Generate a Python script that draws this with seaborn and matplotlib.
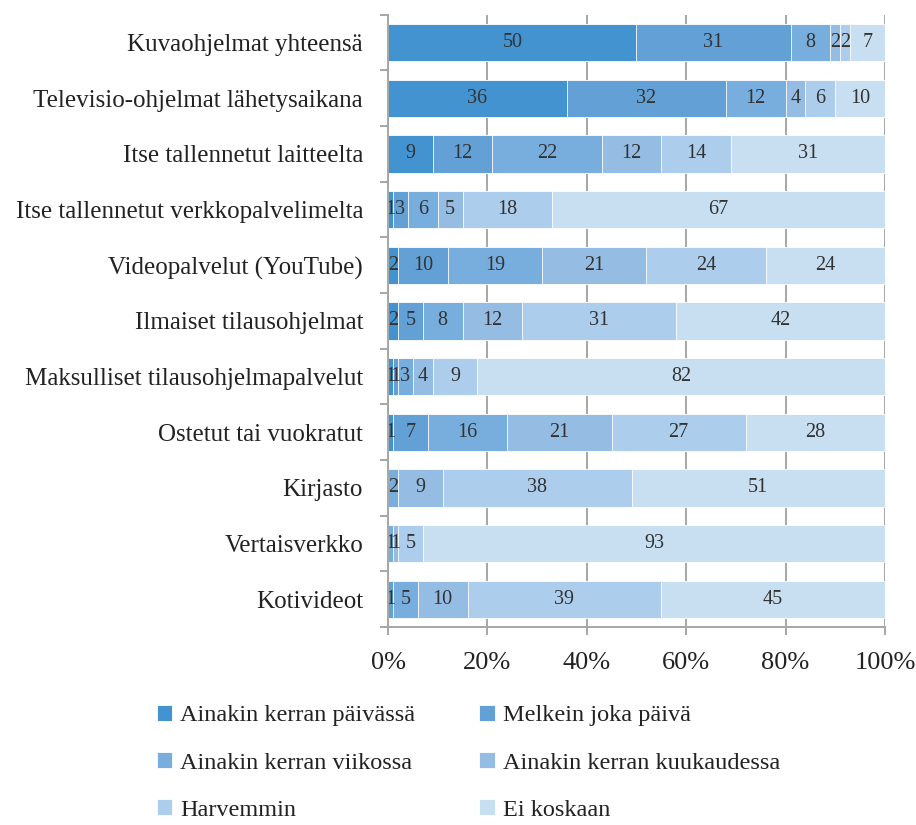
import seaborn as sns
import matplotlib.pyplot as plt
import numpy as np
import pandas as pd

# data (percent)
categories = ['Kuvaohjelmat yhteensä', 'Televisio-ohjelmat lähetysaikana',
              'Itse tallennetut laitteelta', 'Itse tallennetut verkkopalvelimelta',
              'Videopalvelut (YouTube)', 'Ilmaiset tilausohjelmat',
              'Maksulliset tilausohjelmapalvelut', 'Ostetut tai vuokratut',
              'Kirjasto', 'Vertaisverkko', 'Kotivideot']
series_names = ['Ainakin kerran päivässä', 'Melkein joka päivä',
                'Ainakin kerran viikossa', 'Ainakin kerran kuukaudessa',
                'Harvemmin', 'Ei koskaan']
daily = [50, 36, 9, 1, 2, 2, 1, 1, 0, 0, 0]
almost_daily = [31, 32, 12, 3, 10, 5, 1, 7, 0, 0, 1]
weekly = [8, 12, 22, 6, 19, 8, 3, 16, 2, 1, 5]
monthly = [2, 4, 12, 5, 21, 12, 4, 21, 9, 1, 10]
less_often = [2, 6, 14, 18, 24, 31, 9, 27, 38, 5, 39]
never = [7, 10, 31, 67, 24, 42, 82, 28, 51, 93, 45]
x_ticks = [0, 20, 40, 60, 80, 100]

series = [daily, almost_daily, weekly, monthly, less_often, never]
colors = ['#4393d0', '#62a0d6', '#78aedd', '#95bde4', '#adcdec', '#c8dff2']

sns.set_style('white')
plt.rcParams['font.family'] = ['Liberation Serif', 'DejaVu Serif']

fig = plt.figure(figsize=(9.16, 8.25), dpi=100)
ax = fig.add_axes([0.4236, 0.24, 0.5425, 0.742])

vals = np.array(series)
cum = vals.cumsum(axis=0)

# stacked bars: draw cumulative totals from the widest down
for i in reversed(range(len(series))):
    df = pd.DataFrame({'cat': categories, 'cum': cum[i]})
    sns.barplot(data=df, x='cum', y='cat', orient='h', color=colors[i],
                width=0.67, edgecolor='white', linewidth=0.6,
                label=series_names[i], ax=ax, saturation=1)
for p in ax.patches:
    p.set_zorder(2)

# segment labels
for i in range(len(series)):
    for j, v in enumerate(series[i]):
        if v > 0:
            ax.text(cum[i][j] - v / 2, j, str(v), ha='center', va='center',
                    fontsize=14.5, color='#333333', zorder=3)

ax.set_xlim(0, 100)
ax.set_ylim(len(categories) - 0.5, -0.5)
ax.set_xticks(x_ticks)
ax.set_xticklabels([f'{t}%' for t in x_ticks], fontsize=19)
ax.set_yticks(range(len(categories)))
ax.set_yticklabels(categories, fontsize=18)
ax.set_yticks(np.arange(-0.5, len(categories), 1), minor=True)
ax.set_xlabel('')
ax.set_ylabel('')

ax.grid(axis='x', color='#a6a6a6', linewidth=1.4, zorder=0)
ax.set_axisbelow(True)
for s in ['top', 'right']:
    ax.spines[s].set_visible(False)
for s in ['left', 'bottom']:
    ax.spines[s].set_color('#a6a6a6')
    ax.spines[s].set_linewidth(1.4)
    ax.spines[s].set_zorder(4)

ax.tick_params(axis='y', which='major', length=0, pad=18, colors='#222222')
ax.tick_params(axis='y', which='minor', length=6, width=1.4, color='#a6a6a6',
               left=True)
ax.tick_params(axis='x', which='major', length=6, width=1.4, color='#a6a6a6',
               bottom=True, pad=12, labelcolor='#222222')

handles, labels = ax.get_legend_handles_labels()
lookup = dict(zip(labels, handles))
order = [0, 2, 4, 1, 3, 5]
if ax.legend_:
    ax.legend_.remove()
fig.legend([lookup[series_names[k]] for k in order],
           [series_names[k] for k in order],
           loc='upper left', bbox_to_anchor=(0.147, 0.172), ncol=2,
           frameon=False, fontsize=17.5, handlelength=0.63, handleheight=0.63,
           handletextpad=0.33, labelspacing=1.05, columnspacing=2.65,
           labelcolor='#222222')

fig.savefig('out.png', dpi=100)
